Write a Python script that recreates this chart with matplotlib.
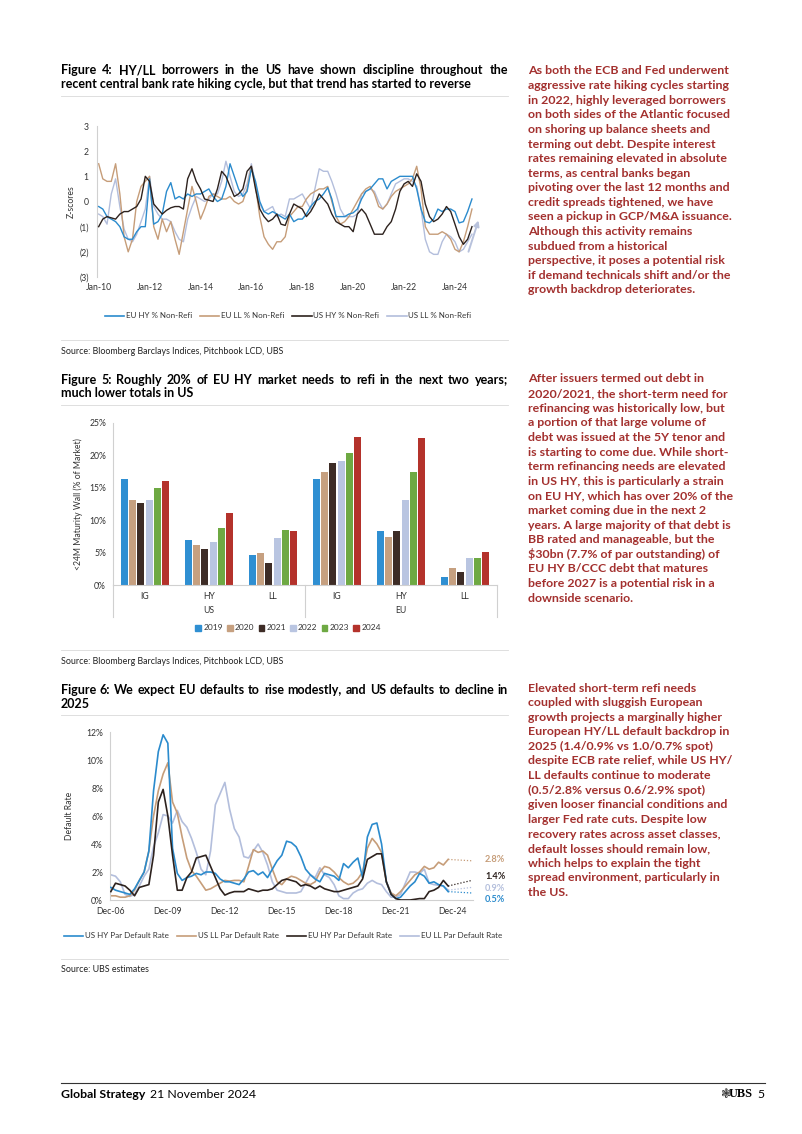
import numpy as np
import pandas as pd
import matplotlib
matplotlib.use('Agg')
import matplotlib.pyplot as plt
from matplotlib.lines import Line2D
from matplotlib.patches import Patch

plt.rcParams['font.family'] = ['Lato', 'DejaVu Sans']

# ---------------- data ----------------
# Figure 4: z-scores, every two months from Jan-10
fig4_start = '2010-01-01'
eu_hy_nonrefi = [-0.2, -0.3, -0.6, -0.7, -0.8, -1.0,
                 -1.4, -1.5, -1.5, -1.2, -1.0, -1.0,
                 0.9, -0.9, -0.8, -0.5, 0.4, 0.75,
                 0.1, 0.2, 0.1, 0.3, 0.2, 0.3,
                 0.3, 0.4, 0.5, 0.2, 0.0, 0.1,
                 0.6, 1.5, 1.0, 0.5, 0.2, 0.4,
                 1.3, 0.8, 0.0, -0.4, -0.5, -0.4,
                 -0.5, -0.6, -0.7, -0.5, -0.8, -0.7,
                 -0.7, -0.5, -0.2, 0.0, 0.1, 0.3,
                 0.55, 0.1, -0.6, -0.6, -0.6, -0.5,
                 -0.45, -0.3, 0.1, 0.4, 0.5, 0.7,
                 0.9, 0.9, 0.5, 0.8, 0.9, 1.0,
                 1.0, 1.0, 1.0, 0.5, -0.3, -0.8,
                 -0.85, -0.7, -0.3, -0.4, -0.3, -0.3,
                 -0.4, -0.85, -0.8, -0.4, 0.1]
eu_ll_nonrefi = [1.5, 0.9, 0.8, 0.8, 1.5, 0.3,
                 -1.4, -2.0, -1.5, 0.0, 0.6, 0.8,
                 1.0, -1.0, -1.5, -0.7, -1.2, -0.8,
                 -1.5, -2.1, -1.2, -0.3, 0.6, 0.0,
                 -0.7, -0.3, 0.2, 0.3, 0.2, 0.1,
                 0.1, 0.2, 0.0, -0.1, 0.0, 0.5,
                 1.4, 0.6, -0.6, -1.4, -1.7, -1.9,
                 -1.6, -1.6, -1.4, -0.6, -0.4, -0.2,
                 -0.2, 0.1, 0.3, 0.4, 0.5, 0.5,
                 0.6, 0.0, -0.6, -0.9, -0.8, -0.6,
                 -0.3, 0.0, 0.3, 0.5, 0.6, 0.3,
                 -0.2, -0.3, -0.1, 0.2, 0.4, 0.5,
                 0.6, 0.7, 0.9, 1.4, 0.5, -1.0,
                 -1.3, -1.3, -1.3, -1.2, -1.3, -1.5,
                 -1.9, -2.0, -1.6, -1.0, -0.3]
us_hy_nonrefi = [-1.0, -0.7, -0.6, -0.65, -0.7, -0.5,
                 -0.4, -0.4, -0.3, -0.2, 0.1, 1.0,
                 0.8, -0.1, -0.3, -0.5, -0.35, -0.25,
                 -0.2, -0.2, -0.3, 0.9, 1.3, 0.8,
                 0.5, 0.1, 0.05, 0.0, 0.5, 1.2,
                 1.0, 0.6, 0.2, 0.3, 0.5, 1.2,
                 1.4, 0.5, -0.3, -0.6, -0.8, -0.7,
                 -0.5, -0.9, -0.95, -0.5, -0.1, -0.2,
                 -0.3, -0.6, -0.4, -0.1, 0.3, 0.1,
                 -0.1, -0.5, -0.8, -0.9, -1.0, -1.0,
                 -1.2, -0.5, -0.3, -0.5, -0.9, -1.3,
                 -1.3, -1.3, -1.0, -0.8, -0.3, 0.4,
                 0.7, 0.8, 0.6, 1.1, 0.8, -0.1,
                 -0.6, -0.8, -0.7, -0.5, -0.2, -0.4,
                 -0.9, -1.4, -1.7, -1.5, -1.0]
us_ll_nonrefi = [-0.5, -0.6, -0.9, 0.3, 0.9, -0.2,
                 -1.1, -1.5, -1.6, -1.3, -0.8, -0.3,
                 1.0, -0.2, -0.5, -0.7, -0.7, -0.8,
                 -1.2, -1.5, -1.6, -0.7, -0.2, 0.2,
                 0.1, 0.0, 0.1, 0.3, 0.3, 0.8,
                 1.6, 1.0, 0.4, 0.2, 0.3, 0.7,
                 1.5, 0.7, -0.1, -0.4, -0.3, -0.2,
                 -0.6, -0.5, -0.6, 0.1, 0.1, 0.2,
                 0.3, 0.0, -0.3, 0.5, 1.3, 1.2,
                 1.2, 0.8, 0.3, -0.3, -0.6, -0.6,
                 -0.6, -0.5, 0.3, 0.4, 0.5, 0.4,
                 0.0, -0.3, -0.1, 0.3, 0.7, 0.8,
                 0.9, 0.9, 0.8, 0.6, -0.3, -1.5,
                 -2.0, -2.1, -2.1, -1.6, -1.3, -1.4,
                 -1.6, -2.0, -1.9, -1.6, -1.3]
fig4_names = ['EU HY % Non-Refi', 'EU LL % Non-Refi', 'US HY % Non-Refi', 'US LL % Non-Refi']
arrow_tail = ('2024-07-01', -2.1)
arrow_head = ('2024-12-15', -0.65)

# Figure 5: <24M maturity wall, % of market
fig5_groups = ['IG', 'HY', 'LL', 'IG', 'HY', 'LL']
fig5_regions = ['US', 'EU']
fig5_years = ['2019', '2020', '2021', '2022', '2023', '2024']
wall_2019 = [16.3, 7.0, 4.6, 16.4, 8.4, 1.2]
wall_2020 = [13.1, 6.2, 4.9, 17.4, 7.4, 2.7]
wall_2021 = [12.7, 5.5, 3.4, 18.9, 8.4, 2.0]
wall_2022 = [13.1, 6.6, 7.2, 19.2, 13.1, 4.1]
wall_2023 = [15.0, 8.8, 8.5, 20.4, 17.5, 4.2]
wall_2024 = [16.0, 11.1, 8.4, 22.9, 22.7, 5.1]

# Figure 6: par default rates (%), quarterly from Dec-06
fig6_start = '2006-12-01'
us_hy_default = [0.9, 0.7, 0.6, 0.5, 0.4, 0.8, 1.4, 2.0,
                 3.5, 7.8, 10.6, 11.8, 11.2, 3.7, 1.9, 1.4,
                 1.6, 1.7, 1.9, 1.8, 2.0, 2.0, 1.9, 1.5,
                 1.3, 1.3, 1.2, 1.1, 1.5, 2.0, 2.1, 1.8,
                 2.0, 1.6, 2.2, 2.8, 3.2, 4.2, 4.1, 3.8,
                 3.1, 2.2, 1.8, 1.5, 1.3, 1.9, 1.8, 1.7,
                 1.4, 2.6, 2.3, 2.7, 3.0, 1.6, 4.5, 5.4,
                 5.5, 4.0, 1.3, 0.4, 0.1, 0.2, 0.6, 1.0,
                 1.3, 1.9, 1.7, 1.2, 1.3, 1.1, 1.0, 0.6]
us_ll_default = [0.3, 0.3, 0.2, 0.2, 0.3, 0.7, 1.4, 2.0,
                 3.5, 6.0, 7.8, 9.0, 9.8, 7.0, 6.2, 4.5,
                 3.0, 2.1, 1.7, 1.2, 0.7, 0.8, 1.0, 1.2,
                 1.4, 1.35, 1.4, 1.4, 1.3, 2.4, 3.6, 3.4,
                 3.5, 3.2, 2.2, 1.3, 1.1, 1.5, 1.7, 1.6,
                 1.4, 1.2, 1.1, 1.3, 2.0, 2.4, 2.3, 2.0,
                 1.6, 1.3, 1.1, 1.2, 1.5, 2.0, 3.7, 4.4,
                 4.0, 3.4, 1.3, 0.5, 0.3, 0.6, 1.0, 1.4,
                 1.8, 2.0, 2.4, 2.2, 2.3, 2.7, 2.5, 2.9]
eu_hy_default = [0.6, 1.2, 1.1, 1.0, 0.7, 0.3, 0.9, 1.0,
                 1.1, 3.2, 7.0, 7.9, 6.0, 3.2, 0.7, 0.7,
                 1.6, 2.0, 3.0, 3.1, 3.2, 2.4, 1.6, 0.8,
                 0.35, 0.5, 0.6, 0.6, 0.6, 0.8, 0.7, 0.6,
                 0.7, 0.7, 0.8, 1.1, 1.4, 1.5, 1.4, 1.3,
                 1.0, 1.1, 1.0, 0.8, 1.0, 0.8, 0.7, 0.6,
                 0.6, 0.7, 0.8, 0.9, 1.0, 1.5, 2.9, 3.1,
                 3.3, 3.3, 1.3, 0.4, 0.1, 0.0, 0.0, 0.0,
                 0.05, 0.1, 0.1, 0.6, 0.7, 0.9, 1.4, 1.0]
eu_ll_default = [1.8, 1.7, 1.3, 0.4, 0.25, 0.4, 1.0, 1.7,
                 2.2, 3.8, 4.8, 6.1, 6.0, 5.5, 6.4, 5.6,
                 5.2, 4.4, 3.4, 2.2, 1.8, 3.5, 6.8, 7.6,
                 8.4, 6.5, 5.1, 4.5, 3.1, 3.0, 3.5, 4.0,
                 3.4, 2.5, 1.3, 0.7, 0.6, 0.5, 0.5, 0.5,
                 0.6, 1.2, 1.8, 1.6, 2.3, 1.8, 1.6, 1.1,
                 0.3, 0.1, 0.1, 0.5, 0.7, 0.8, 1.2, 1.4,
                 1.2, 1.1, 0.6, 0.2, 0.2, 0.4, 1.2, 2.0,
                 2.0, 1.9, 2.2, 1.2, 1.1, 1.05, 1.0, 0.7]
fig6_names = ['US HY Par Default Rate', 'US LL Par Default Rate',
              'EU HY Par Default Rate', 'EU LL Par Default Rate']
forecast_date = '2025-12-01'
forecast_2025 = [0.5, 2.8, 1.4, 0.9]          # US HY, US LL, EU HY, EU LL
forecast_labels = ['0.5%', '2.8%', '1.4%', '0.9%']
forecast_label_y = [0.05, 2.9, 1.65, 0.85]    # label positions (offset to avoid overlap)

# colours
C_BLUE, C_TAN, C_DARK, C_LAV = '#2b8bcd', '#c69d79', '#2d221e', '#b3bedc'
bar_colors = ['#2f8fd2', '#c6a080', '#3d2c26', '#b9c5e1', '#6ea943', '#b4322b']
RED = '#a3302e'
RULE = '#d9d9d9'

# ---------------- page ----------------
W, H = 802, 1134
fig = plt.figure(figsize=(W / 100, H / 100), dpi=100)


def fx(x):
    return x / W


def fy(y):
    return 1 - y / H


def add_axes(l, t, r, b):
    return fig.add_axes([fx(l), fy(b), (r - l) / W, (b - t) / H])


def hrule(y, x0=61, x1=508, color=RULE, lw=0.6):
    fig.add_artist(Line2D([fx(x0), fx(x1)], [fy(y), fy(y)], transform=fig.transFigure,
                          color=color, lw=lw))


def justified(y, text, x0=61, x1=508, **kw):
    # words share one baseline, spread to fill the column
    words = text.split()
    objs = [fig.text(0, fy(y + 3.5), w, va='baseline', **kw) for w in words]
    r = fig.canvas.get_renderer()
    widths = [o.get_window_extent(r).width for o in objs]
    gap = (x1 - x0 - sum(widths)) / (len(words) - 1)
    x = x0
    for o, w in zip(objs, widths):
        o.set_x(fx(x))
        x += w + gap


def title(y, line1, line2):
    justified(y, line1, fontsize=9.0, fontweight='bold', color='black')
    fig.text(fx(61), fy(y + 17.5), line2, fontsize=9.0, fontweight='bold', va='baseline')
    hrule(y + 25)


def body(y0, lines):
    for i, s in enumerate(lines):
        fig.text(fx(528), fy(y0 + i * 14.6), s, fontsize=8.9, fontweight='bold',
                 color=RED, va='center', parse_math=False)


def source(y, s):
    hrule(y - 11)
    fig.text(fx(61), fy(y), s, fontsize=6.4, color='#222222', va='center')


def style_axes(ax, bottom=True):
    for side in ['top', 'right']:
        ax.spines[side].set_visible(False)
    ax.spines['left'].set_color('#d0d0d0')
    ax.spines['bottom'].set_color('#d0d0d0')
    ax.spines['bottom'].set_visible(bottom)
    ax.tick_params(length=0, labelsize=6.2, colors='#333333')


# ---- Figure 4 ----
title(71, 'Figure 4: HY/LL borrowers in the US have shown discipline throughout the',
      'recent central bank rate hiking cycle, but that trend has started to reverse')
ax4 = add_axes(97, 126, 485, 277)
d4 = pd.date_range(fig4_start, periods=len(eu_hy_nonrefi), freq='2MS')
for vals, col, z in [(us_ll_nonrefi, C_LAV, 1), (eu_ll_nonrefi, C_TAN, 2),
                     (eu_hy_nonrefi, C_BLUE, 3), (us_hy_nonrefi, C_DARK, 4)]:
    ax4.plot(d4, vals, color=col, lw=1.0, zorder=z)
ax4.annotate('', xy=(pd.Timestamp(arrow_head[0]), arrow_head[1]),
             xytext=(pd.Timestamp(arrow_tail[0]), arrow_tail[1]),
             arrowprops=dict(arrowstyle='-|>', color='#b8c2dc', lw=1.4, mutation_scale=8))
ax4.set_xlim(pd.Timestamp('2009-12-08'), pd.Timestamp('2025-03-07'))
ax4.set_ylim(-3, 3)
ax4.set_yticks(range(-3, 4))
ax4.set_yticklabels(['(3)', '(2)', '(1)', '0', '1', '2', '3'])
t4 = pd.date_range('2010-01-01', '2024-01-01', freq='24MS')
ax4.set_xticks(t4)
ax4.set_xticklabels([t.strftime('%b-%y') for t in t4])
style_axes(ax4, bottom=False)
ax4.tick_params(axis='y', pad=6)
ax4.tick_params(axis='x', pad=4)
fig.text(fx(71), fy(202), 'Z-scores', rotation=90, fontsize=6.2, va='center', ha='center',
         color='#333333')
h4 = [Line2D([], [], color=c, lw=1.2) for c in [C_BLUE, C_TAN, C_DARK, C_LAV]]
fig.legend(h4, fig4_names, loc='center', bbox_to_anchor=(fx(288), fy(316)), ncol=4,
           frameon=False, fontsize=5.8, handlelength=2.4, handletextpad=0.2,
           columnspacing=1.0, labelcolor='#333333')
source(351, 'Source: Bloomberg Barclays Indices, Pitchbook LCD, UBS')

# ---- Figure 5 ----
title(380, 'Figure 5: Roughly 20% of EU HY market needs to refi in the next two years;',
      'much lower totals in US')
ax5 = add_axes(113, 423, 497, 585)
centers = np.arange(len(fig5_groups)) + 0.5
series5 = [wall_2019, wall_2020, wall_2021, wall_2022, wall_2023, wall_2024]
for j, (vals, col) in enumerate(zip(series5, bar_colors)):
    ax5.bar(centers + (j - 2.5) * 0.13, vals, width=0.105, color=col, label=fig5_years[j])
ax5.set_xlim(0, len(fig5_groups))
ax5.set_ylim(0, 25)
ax5.set_yticks(range(0, 26, 5))
ax5.set_yticklabels([f'{v}%' for v in range(0, 26, 5)])
ax5.set_xticks(centers)
ax5.set_xticklabels(fig5_groups)
style_axes(ax5)
ax5.tick_params(axis='y', pad=5)
ax5.tick_params(axis='x', pad=5)
xt = ax5.get_xaxis_transform()
for k, reg in enumerate(fig5_regions):
    ax5.text(1.5 + 3 * k, -0.155, reg, transform=xt, ha='center', va='center',
             fontsize=6.2, color='#333333')
for xb in [0, 3, 6]:
    ax5.plot([xb, xb], [0, -0.2], transform=xt, color='#d0d0d0', lw=0.8, clip_on=False)
fig.text(fx(78), fy(504), '<24M Maturity Wall (% of Market)', rotation=90, fontsize=6.2,
         va='center', ha='center', color='#333333')
h5 = [Patch(color=c) for c in bar_colors]
fig.legend(h5, fig5_years, loc='center', bbox_to_anchor=(fx(288), fy(628)), ncol=6,
           frameon=False, fontsize=6.0, handlelength=0.7, handleheight=0.7,
           handletextpad=0.25, columnspacing=0.5, labelcolor='#333333')
source(661, 'Source: Bloomberg Barclays Indices, Pitchbook LCD, UBS')

# ---- Figure 6 ----
title(690, 'Figure 6: We expect EU defaults to rise modestly, and US defaults to decline in',
      '2025')
ax6 = add_axes(110, 732, 473.5, 900)
d6 = pd.date_range(fig6_start, periods=len(us_hy_default), freq='3MS')
series6 = [us_hy_default, us_ll_default, eu_hy_default, eu_ll_default]
cols6 = [C_BLUE, C_TAN, C_DARK, C_LAV]
zs6 = [3, 2, 4, 1]
fd = pd.Timestamp(forecast_date)
for vals, col, z, fc in zip(series6, cols6, zs6, forecast_2025):
    ax6.plot(d6, vals, color=col, lw=1.2, zorder=z)
    ax6.plot([d6[-1], fd], [vals[-1], fc], color=col, lw=0.9, ls=(0, (1, 1.5)), zorder=z)
for lab, ly, col in zip(forecast_labels, forecast_label_y, cols6):
    ax6.text(1.032, ly, lab, transform=ax6.get_yaxis_transform(), color=col,
             fontsize=6.6, fontweight='bold', va='center', ha='left', clip_on=False)
ax6.set_xlim(pd.Timestamp('2006-11-15'), pd.Timestamp('2026-01-01'))
ax6.set_ylim(0, 12)
ax6.set_yticks(range(0, 13, 2))
ax6.set_yticklabels([f'{v}%' for v in range(0, 13, 2)])
t6 = pd.date_range('2006-12-01', '2024-12-01', freq='36MS')
ax6.set_xticks(t6)
ax6.set_xticklabels([t.strftime('%b-%y') for t in t6])
style_axes(ax6)
ax6.tick_params(axis='y', pad=5)
ax6.tick_params(axis='x', pad=5)
fig.text(fx(70), fy(816), 'Default Rate', rotation=90, fontsize=6.2, va='center',
         ha='center', color='#333333')
h6 = [Line2D([], [], color=c, lw=1.2) for c in cols6]
fig.legend(h6, fig6_names, loc='center', bbox_to_anchor=(fx(283), fy(936)), ncol=4,
           frameon=False, fontsize=5.8, handlelength=2.4, handletextpad=0.2,
           columnspacing=1.0, labelcolor='#333333')
source(970, 'Source: UBS estimates')

# ---- right-hand commentary ----
body(71, ['As both the ECB and Fed underwent',
          'aggressive rate hiking cycles starting',
          'in 2022, highly leveraged borrowers',
          'on both sides of the Atlantic focused',
          'on shoring up balance sheets and',
          'terming out debt. Despite interest',
          'rates remaining elevated in absolute',
          'terms, as central banks began',
          'pivoting over the last 12 months and',
          'credit spreads tightened, we have',
          'seen a pickup in GCP/M&A issuance.',
          'Although this activity remains',
          'subdued from a historical',
          'perspective, it poses a potential risk',
          'if demand technicals shift and/or the',
          'growth backdrop deteriorates.'])
body(379, ['After issuers termed out debt in',
           '2020/2021, the short-term need for',
           'refinancing was historically low, but',
           'a portion of that large volume of',
           'debt was issued at the 5Y tenor and',
           'is starting to come due. While short-',
           'term refinancing needs are elevated',
           'in US HY, this is particularly a strain',
           'on EU HY, which has over 20% of the',
           'market coming due in the next 2',
           'years. A large majority of that debt is',
           'BB rated and manageable, but the',
           '$30bn (7.7% of par outstanding) of',
           'EU HY B/CCC debt that matures',
           'before 2027 is a potential risk in a',
           'downside scenario.'])
body(688, ['Elevated short-term refi needs',
           'coupled with sluggish European',
           'growth projects a marginally higher',
           'European HY/LL default backdrop in',
           '2025 (1.4/0.9% vs 1.0/0.7% spot)',
           'despite ECB rate relief, while US HY/',
           'LL defaults continue to moderate',
           '(0.5/2.8% versus 0.6/2.9% spot)',
           'given looser financial conditions and',
           'larger Fed rate cuts. Despite low',
           'recovery rates across asset classes,',
           'default losses should remain low,',
           'which helps to explain the tight',
           'spread environment, particularly in',
           'the US.'])

# ---- footer ----
hrule(1083, 61, 765, color='#333333', lw=0.8)
g = fig.text(fx(61), fy(1094), 'Global Strategy', fontsize=8.8, fontweight='bold', va='center')
gw = g.get_window_extent(fig.canvas.get_renderer()).width
fig.text(fx(61 + gw + 5), fy(1094), '21 November 2024', fontsize=8.8, va='center')
fig.text(fx(765), fy(1094), '5', fontsize=8.8, va='center', ha='right')
fig.text(fx(753), fy(1094), 'UBS', fontsize=8.8, fontweight='bold', va='center', ha='right',
         family=['Liberation Serif', 'DejaVu Serif'])
fig.text(fx(731), fy(1094), '\u2743', fontsize=9, va='center', ha='right', color='#333333',
         family=['DejaVu Sans'])

fig.savefig('out.png', dpi=100)
